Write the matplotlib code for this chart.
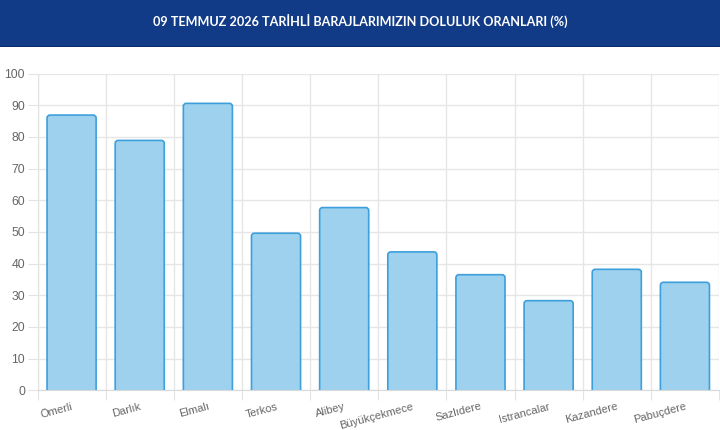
import matplotlib
matplotlib.use("Agg")
import matplotlib.pyplot as plt
from matplotlib.patches import Rectangle, FancyBboxPatch

# dam fill levels (%) on 09.07.2026
baraj = ["Ömerli", "Darlık", "Elmalı", "Terkos", "Alibey", "Büyükçekmece",
         "Sazlıdere", "Istrancalar", "Kazandere", "Pabuçdere"]
doluluk = [86.9, 78.9, 90.6, 49.6, 57.7, 43.7, 36.5, 28.3, 38.2, 34.1]
y_ticks = [0, 10, 20, 30, 40, 50, 60, 70, 80, 90, 100]

baslik = "09 TEMMUZ 2026 TARİHLİ BARAJLARIMIZIN DOLULUK ORANLARI (%)"

plt.rcParams['font.family'] = ['Liberation Sans', 'DejaVu Sans']

fig = plt.figure(figsize=(7.2, 4.3), dpi=100)

# header band
fig.patches.append(Rectangle((0, 1 - 46 / 430), 1, 46 / 430, transform=fig.transFigure,
                             facecolor="#113a87", edgecolor="none", zorder=0))
fig.patches.append(Rectangle((0, 1 - 47 / 430), 1, 1.5 / 430, transform=fig.transFigure,
                             facecolor="#0b2c6b", edgecolor="none", zorder=0))
fig.text(0.5, 1 - 21 / 430, baslik, color="white", ha="center", va="center",
         fontsize=9.1, fontweight="bold", family=["Lato", "DejaVu Sans"])

ax = fig.add_axes([37.5 / 720, 1 - 390.3 / 430, (719 - 37.5) / 720, (390.3 - 73.6) / 430])

x = range(len(baraj))
bars = ax.bar(x, doluluk, width=0.72, color="none", edgecolor="none", zorder=3)

# rounded tops like the web chart
px_x = (719 - 37.5) / len(baraj)
px_y = (390.3 - 73.6) / 100
for b in bars:
    r = FancyBboxPatch((b.get_x(), -2), b.get_width(), b.get_height() + 2,
                       boxstyle="round,pad=0,rounding_size=%f" % (3 / px_x),
                       mutation_aspect=px_x / px_y,
                       facecolor="#9dd1ee", edgecolor="#3d9fdc", linewidth=1.2,
                       zorder=3)
    ax.add_patch(r)

ax.set_xlim(-0.5, len(baraj) - 0.5)
ax.set_ylim(0, 100)
ax.set_yticks(y_ticks)
ax.set_yticklabels([str(t) for t in y_ticks])

# vertical grid on category boundaries
ax.set_xticks([i - 0.5 for i in range(len(baraj) + 1)], minor=False)
ax.set_xticklabels([])
ax.set_xticks(list(x), minor=True)
ax.set_xticklabels(baraj, minor=True, rotation=15, ha="right",
                   rotation_mode="anchor", fontsize=8.0, color="#666666")
ax.tick_params(axis="x", which="minor", length=0, pad=8)
ax.tick_params(axis="x", which="major", length=7, color="#e3e3e3")
ax.tick_params(axis="y", length=7, color="#e3e3e3", labelsize=8.8,
               labelcolor="#666666", pad=2)

ax.grid(True, which="major", color="#e6e6e6", linewidth=1, zorder=0)
ax.set_axisbelow(True)
for s in ["top", "right"]:
    ax.spines[s].set_visible(False)
ax.spines["left"].set_color("#e3e3e3")
ax.spines["bottom"].set_color("#d9d9d9")
ax.spines["bottom"].set_zorder(4)

fig.savefig("out.png", dpi=100)
